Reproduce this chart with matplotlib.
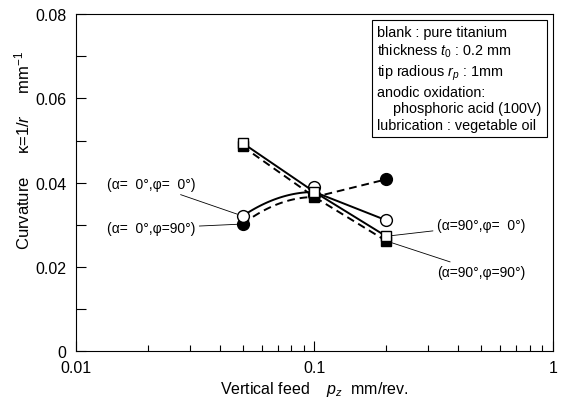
import numpy as np
from matplotlib import pyplot as plt

plt.rcParams['font.family'] = ['Liberation Sans', 'DejaVu Sans']
plt.rcParams['mathtext.fontset'] = 'custom'
plt.rcParams['mathtext.rm'] = 'Liberation Sans'
plt.rcParams['mathtext.it'] = 'Liberation Sans:italic'

# vertical feed p_z (mm/rev.)
feed = [0.05, 0.1, 0.2]

# curvature (1/mm) per condition
a0_p0 = [0.0321, 0.0390, 0.0311]     # open circle, solid
a0_p90 = [0.0302, 0.0370, 0.0408]    # filled circle, dashed
a90_p0 = [0.0494, 0.0378, 0.0273]    # open square, solid
a90_p90 = [0.0486, 0.0366, 0.0262]   # filled square, dashed

labels = ['(α=  0°,φ=  0°)', '(α=  0°,φ=90°)', '(α=90°,φ=  0°)', '(α=90°,φ=90°)']

info = ('blank : pure titanium\n'
        'thickness $t_0$ : 0.2 mm\n'
        'tip radious $r_p$ : 1mm\n'
        'anodic oxidation:\n'
        '    phosphoric acid (100V)\n'
        'lubrication : vegetable oil')


def curve_then_straight(x, y, y_end):
    # bowed first segment (flat where it meets the middle point),
    # straight second segment
    lx = np.log10(x)
    t = np.linspace(0, 1, 40)
    ys = y_end - (y_end - y[0]) * (1 - t) ** 2
    xs = 10 ** (lx[0] + t * (lx[1] - lx[0]))
    return np.concatenate([xs, [x[2]]]), np.concatenate([ys, [y[2]]])


fig = plt.figure(figsize=(5.63, 4.06), dpi=100)
ax = fig.add_axes([0.135, 0.132, 0.847, 0.831])

dash = dict(ls=(0, (4, 2.5)), lw=1.4, color='black')
solid = dict(ls='-', lw=1.4, color='black')

xs, ys = curve_then_straight(feed, a0_p90, a90_p90[1])
ax.plot(xs, ys, **dash, zorder=2)
ax.plot(feed, a90_p90, **dash, zorder=2)
xs, ys = curve_then_straight(feed, a0_p0, a90_p0[1])
ax.plot(xs, ys, **solid, zorder=2)
ax.plot(feed, a90_p0, **solid, zorder=2)

ax.plot(feed, a0_p90, 'o', ms=8.5, mfc='black', mec='black', zorder=3)
ax.plot(feed, a90_p90, 's', ms=7.5, mfc='black', mec='black', zorder=3)
ax.plot(feed, a0_p0, 'o', ms=8.5, mfc='white', mec='black', mew=1, zorder=4)
ax.plot(feed, a90_p0, 's', ms=7.5, mfc='white', mec='black', mew=1, zorder=4)

line = dict(arrowstyle='-', lw=0.6, color='black', shrinkA=1, shrinkB=4)
ax.annotate(labels[0], xy=(feed[0], a0_p0[0]), xytext=(0.0316, 0.0396),
            ha='right', va='center', fontsize=10, arrowprops=line)
ax.annotate(labels[1], xy=(feed[0], a0_p90[0]), xytext=(0.0316, 0.0292),
            ha='right', va='center', fontsize=10, arrowprops=line)
ax.annotate(labels[2], xy=(feed[2], a90_p0[2]), xytext=(0.327, 0.0299),
            ha='left', va='center', fontsize=10, arrowprops=line)
ax.annotate(labels[3], xy=(feed[2], a90_p90[2]), xytext=(0.327, 0.0188),
            ha='left', va='center', fontsize=10, arrowprops=line)

ax.text(0.632, 0.968, info, transform=ax.transAxes, ha='left', va='top',
        fontsize=10.4, linespacing=1.25,
        bbox=dict(boxstyle='square,pad=0.35', fc='white', ec='black', lw=0.8))

ax.set_xscale('log')
ax.set_xlim(0.01, 1)
ax.set_ylim(0, 0.08)
ax.set_xticks([0.01, 0.1, 1])
ax.set_xticklabels(['0.01', '0.1', '1'])
ax.set_yticks([0, 0.02, 0.04, 0.06, 0.08])
ax.set_yticklabels(['0', '0.02', '0.04', '0.06', '0.08'])
ax.set_yticks(np.arange(0.01, 0.08, 0.02), minor=True)
ax.tick_params(which='both', direction='in', labelsize=11.5, width=0.8)
ax.tick_params(which='major', length=7)
ax.tick_params(which='minor', length=4)
ax.tick_params(axis='y', which='minor', length=7)
ax.tick_params(axis='y', pad=7)
ax.tick_params(axis='x', which='major', pad=6)
for s in ax.spines.values():
    s.set_linewidth(0.8)

ax.set_xlabel('Vertical feed    $p_z$  mm/rev.', fontsize=11.5, labelpad=3)
ax.set_ylabel('Curvature     κ=1/$r$     mm$^{-1}$', fontsize=12)
ax.yaxis.set_label_coords(-0.092, 0.6)

fig.savefig('out.png', dpi=100)
